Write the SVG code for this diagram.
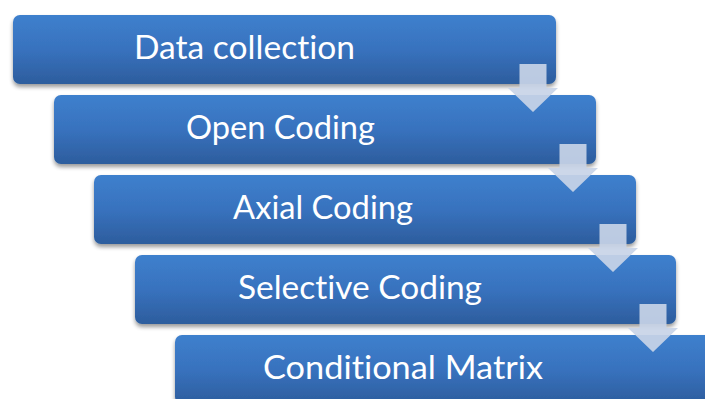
<svg xmlns="http://www.w3.org/2000/svg" width="705" height="399" viewBox="0 0 705 399">
  <defs>
    <linearGradient id="boxFill" x1="0" y1="0" x2="0" y2="1">
      <stop offset="0" stop-color="#3e80cd"/>
      <stop offset="0.5" stop-color="#3872be"/>
      <stop offset="1" stop-color="#2d5d9d"/>
    </linearGradient>
    <filter id="shadow" x="-5%" y="-20%" width="110%" height="150%">
      <feGaussianBlur in="SourceAlpha" stdDeviation="2"/>
      <feOffset dx="0" dy="3" result="blur"/>
      <feComponentTransfer><feFuncA type="linear" slope="0.4"/></feComponentTransfer>
      <feMerge><feMergeNode/><feMergeNode in="SourceGraphic"/></feMerge>
    </filter>
    <!-- down arrow: shaft from y=0 to head, head shoulders at y=24, tip at y=48 -->
    <path id="downArrow" d="M-13.5 0 H13.5 V24 H25 L0 48 L-25 24 H-13.5 Z"/>
  </defs>
  <style>
    .box { fill: url(#boxFill); filter: url(#shadow); }
    .label { fill: #ffffff; font-family: Lato, "Open Sans", "Noto Sans", sans-serif; font-size: 33px; text-anchor: middle;
             font-variant-ligatures: none; font-feature-settings: "liga" 0, "clig" 0; }
    .arrow { fill: #c8d4e7; fill-opacity: 0.92; }
  </style>

  <g id="node-data-collection">
    <rect class="box" x="13" y="15" width="543" height="69" rx="7"/>
    <text class="label" x="244.5" y="59" textLength="221" lengthAdjust="spacingAndGlyphs">Data collection</text>
  </g>
  <g id="node-open-coding">
    <rect class="box" x="54" y="95" width="542" height="69" rx="7"/>
    <text class="label" x="280.5" y="139" textLength="189" lengthAdjust="spacingAndGlyphs">Open Coding</text>
  </g>
  <g id="node-axial-coding">
    <rect class="box" x="94" y="175" width="542" height="69" rx="7"/>
    <text class="label" x="323" y="219" textLength="180" lengthAdjust="spacingAndGlyphs">Axial Coding</text>
  </g>
  <g id="node-selective-coding">
    <rect class="box" x="135" y="255" width="541" height="69" rx="7"/>
    <text class="label" x="360" y="299" textLength="244" lengthAdjust="spacingAndGlyphs">Selective Coding</text>
  </g>
  <g id="node-conditional-matrix">
    <rect class="box" x="175" y="335" width="543" height="69" rx="7"/>
    <text class="label" x="403" y="379" textLength="280" lengthAdjust="spacingAndGlyphs">Conditional Matrix</text>
  </g>

  <g id="connectors">
    <use class="arrow" href="#downArrow" x="533" y="64"/>
    <use class="arrow" href="#downArrow" x="573" y="144"/>
    <use class="arrow" href="#downArrow" x="613" y="224"/>
    <use class="arrow" href="#downArrow" x="653" y="304"/>
  </g>
</svg>
